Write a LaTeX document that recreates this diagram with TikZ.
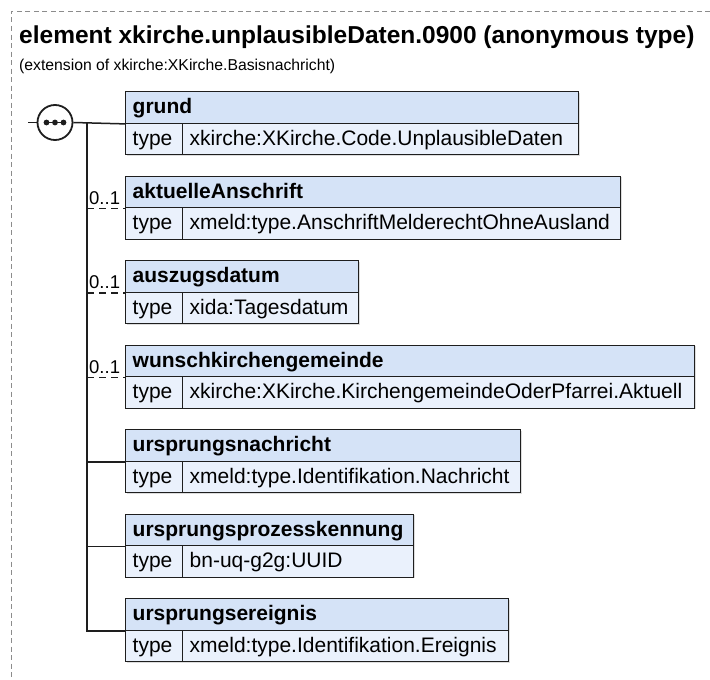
\documentclass[tikz,border=0pt]{standalone}
\usepackage{fontspec}
\setmainfont{Liberation Sans}
\definecolor{hdrfill}{HTML}{D5E3F7}
\definecolor{rowfill}{HTML}{EAF1FC}
\definecolor{edge}{HTML}{1E1E1E}
\definecolor{shade}{HTML}{DDDDDD}
\definecolor{frame}{HTML}{8C8C8C}
\tikzset{
  cell/.style={draw=edge, line width=1.4pt, rectangle, anchor=north west,
    inner xsep=7pt, inner ysep=0pt, minimum height=31.5pt,
    text height=16pt, text depth=3.5pt, align=left,
    font=\fontsize{21}{25}\selectfont},
  hdr/.style={cell, fill=hdrfill, font=\fontsize{21}{25}\selectfont\bfseries},
  row/.style={cell, fill=rowfill},
  link/.style={line width=1.5pt, draw=edge},
  opt/.style={link, dash pattern=on 7pt off 5pt},
  card/.style={anchor=base west, inner sep=0pt, font=\fontsize{18.5}{22}\selectfont},
  shadowbox/.style={fill=shade},
  outerframe/.style={draw=frame, line width=1pt, dash pattern=on 5pt off 3.5pt},
  seqbox/.style={circle, draw=edge, line width=1.8pt, fill=white, minimum size=35pt, inner sep=0pt},
}
\newcommand\xsdbox[5]{% name, top, right, header, value
  \pgfmathsetmacro\xhw{#3-125-14}
  \pgfmathsetmacro\xvw{#3-182-14}
  \pgfmathsetmacro\xmidy{#2+31.5}
  \fill[shadowbox] (126.5,#2+1.5) rectangle (#3+1.8,#2+64.8);
  \node[hdr, text width=\xhw pt] (#1h) at (125,#2) {#4};
  \node[row, text width=43pt] (#1t) at (125,\xmidy) {type};
  \node[row, text width=\xvw pt] (#1v) at (182,\xmidy) {#5};
}
\begin{document}
\begin{tikzpicture}[x=1pt,y=-1pt]
\useasboundingbox (0,0) rectangle (710,680);
\fill[white] (0,0) rectangle (710,680);
\draw[outerframe] (710,11) -- (11,11) -- (11,680);

\node[anchor=base west, inner sep=0pt, font=\fontsize{24.5}{28}\selectfont\bfseries] (title) at (19,43) {element xkirche.unplausibleDaten.0900 (anonymous type)};
\node[anchor=base west, inner sep=0pt, font=\fontsize{15.75}{18}\selectfont] (subtitle) at (19,70) {(extension of xkirche:XKirche.Basisnachricht)};

\xsdbox{grund}{91}{578}{grund}{xkirche:XKirche.Code.UnplausibleDaten}
\xsdbox{akt}{175.5}{620}{aktuelleAnschrift}{xmeld:type.AnschriftMelderechtOhneAusland}
\xsdbox{ausz}{260}{358}{auszugsdatum}{xida:Tagesdatum}
\xsdbox{wunsch}{344.5}{694}{wunschkirchengemeinde}{xkirche:XKirche.KirchengemeindeOderPfarrei.Aktuell}
\xsdbox{nachr}{429}{520}{ursprungsnachricht}{xmeld:type.Identifikation.Nachricht}
\xsdbox{proz}{513.5}{413}{ursprungsprozesskennung}{bn-uq-g2g:UUID}
\xsdbox{ereig}{598}{508}{ursprungsereignis}{xmeld:type.Identifikation.Ereignis}

\coordinate (in) at (28,122.5);
\coordinate (bus) at (87,122.5);
\node[seqbox] (seq) at (55,122.5) {};
\draw[edge, line width=1.4pt] ([xshift=-8.5pt]seq.center) -- ([xshift=8.5pt]seq.center);
\foreach \dx in {-8.5,0,8.5} \fill[edge] ([xshift=\dx pt]seq.center) circle (2.9pt);

\draw[link] (in) -- (seq.west);
\draw[link] (seq.east) -- (grundh.south west);
\draw[link] (bus) |- (ereigh.south west);
\draw[opt] (bus |- akth.south west) -- (akth.south west);
\draw[opt] (bus |- auszh.south west) -- (auszh.south west);
\draw[opt] (bus |- wunschh.south west) -- (wunschh.south west);
\draw[link] (bus |- nachrh.south west) -- (nachrh.south west);
\draw[link] (bus |- prozh.south west) -- (prozh.south west);

\node[card] (c1) at ([xshift=2pt, yshift=4pt]bus |- akth.south west) {0..1};
\node[card] (c2) at ([xshift=2pt, yshift=4pt]bus |- auszh.south west) {0..1};
\node[card] (c3) at ([xshift=2pt, yshift=4pt]bus |- wunschh.south west) {0..1};
\end{tikzpicture}
\end{document}
